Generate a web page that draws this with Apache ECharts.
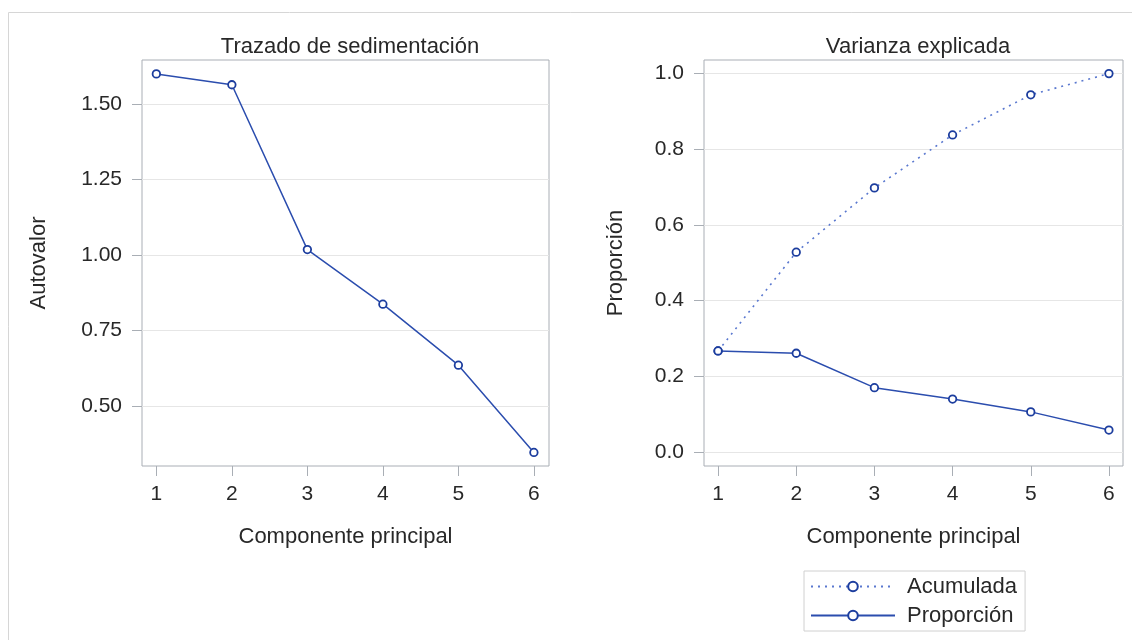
<!DOCTYPE html>
<html>
<head>
<meta charset="utf-8">
<script src="https://cdn.jsdelivr.net/npm/echarts@6/dist/echarts.min.js"></script>
<style>
  html, body { margin: 0; padding: 0; background: #fff; }
  #chart { width: 1132px; height: 640px; }
</style>
</head>
<body>
<div id="chart"></div>
<script>
const componentes = [1, 2, 3, 4, 5, 6];
const autovalores = [1.600, 1.564, 1.018, 0.837, 0.635, 0.346];
const proporcion = [0.267, 0.261, 0.170, 0.140, 0.106, 0.058];
const acumulada = [0.267, 0.528, 0.698, 0.838, 0.944, 1.000];
const ticksAutovalor = [0.50, 0.75, 1.00, 1.25, 1.50];
const ticksProporcion = [0.0, 0.2, 0.4, 0.6, 0.8, 1.0];

const FONT = 'Liberation Sans';
const TEXT = '#282828';
const FRAME = '#A9AEB5';
const GRIDC = '#E6E6E6';
const DARK = '#2B4DAE';
const MARK = '#1C3D9E';
const LIGHT = '#5A78CF';

const pairs = (ys) => componentes.map((c, i) => [c, ys[i]]);

const xAxisBase = (min, max) => ({
  type: 'value', min, max,
  name: 'Componente principal', nameLocation: 'middle', nameGap: 60,
  nameTextStyle: { color: TEXT, fontFamily: FONT, fontSize: 22 },
  axisLine: { show: false, onZero: false },
  axisTick: { show: true, length: 10, lineStyle: { color: FRAME }, customValues: componentes },
  axisLabel: { color: TEXT, fontFamily: FONT, fontSize: 21, margin: 18, customValues: componentes },
  splitLine: { show: false },
});

const yAxisBase = (min, max, name, ticks, fmt, gap) => ({
  type: 'value', min, max,
  name, nameLocation: 'middle', nameGap: gap,
  nameTextStyle: { color: TEXT, fontFamily: FONT, fontSize: 22 },
  axisLine: { show: false, onZero: false },
  axisTick: { show: true, length: 10, lineStyle: { color: FRAME }, customValues: ticks },
  axisLabel: { color: TEXT, fontFamily: FONT, fontSize: 21, margin: 20, customValues: ticks,
    formatter: (v) => v.toFixed(fmt) },
  splitLine: { show: true, lineStyle: { color: GRIDC, width: 1 } },
});

const marker = { color: '#fff', borderColor: MARK, borderWidth: 1.8 };

const chart = echarts.init(document.getElementById('chart'));
chart.setOption({
  animation: false,
  backgroundColor: '#fff',
  graphic: [{
    type: 'rect', shape: { x: 8.5, y: 12.5, width: 1140, height: 640 },
    style: { fill: 'none', stroke: '#D6D6D6', lineWidth: 1 }, silent: true,
  }],
  title: [
    { text: 'Trazado de sedimentación', left: 345, top: 31, textAlign: 'center',
      textStyle: { color: TEXT, fontFamily: FONT, fontSize: 22, fontWeight: 'normal' } },
    { text: 'Varianza explicada', left: 913, top: 31, textAlign: 'center',
      textStyle: { color: TEXT, fontFamily: FONT, fontSize: 22, fontWeight: 'normal' } },
  ],
  grid: [
    { left: 142, top: 60, width: 407, height: 406, show: true, borderColor: FRAME, borderWidth: 1 },
    { left: 704, top: 60, width: 419, height: 406, show: true, borderColor: FRAME, borderWidth: 1 },
  ],
  xAxis: [
    Object.assign(xAxisBase(0.81, 6.20), { gridIndex: 0 }),
    Object.assign(xAxisBase(0.82, 6.18), { gridIndex: 1 }),
  ],
  yAxis: [
    Object.assign(yAxisBase(0.301, 1.646, 'Autovalor', ticksAutovalor, 2, 92), { gridIndex: 0 }),
    Object.assign(yAxisBase(-0.037, 1.036, 'Proporción', ticksProporcion, 1, 77), { gridIndex: 1 }),
  ],
  legend: {
    left: 804, top: 571, orient: 'vertical',
    data: ['Acumulada', 'Proporción'],
    itemWidth: 84, itemHeight: 12, itemGap: 4,
    padding: [3, 8, 3, 6],
    borderColor: '#D0D0D0', borderWidth: 1,
    textStyle: { color: TEXT, fontFamily: FONT, fontSize: 22, lineHeight: 25, padding: [0, 0, 0, 7] },
    selectedMode: false,
  },
  series: [
    { name: 'Autovalor', type: 'line', xAxisIndex: 0, yAxisIndex: 0, data: pairs(autovalores),
      symbol: 'circle', symbolSize: 7.5, lineStyle: { color: DARK, width: 1.5 },
      itemStyle: marker },
    { name: 'Acumulada', type: 'line', xAxisIndex: 1, yAxisIndex: 1, data: pairs(acumulada),
      symbol: 'circle', symbolSize: 7.5, lineStyle: { color: LIGHT, width: 1.6, type: [2, 5] },
      itemStyle: marker },
    { name: 'Proporción', type: 'line', xAxisIndex: 1, yAxisIndex: 1, data: pairs(proporcion),
      symbol: 'circle', symbolSize: 7.5, lineStyle: { color: DARK, width: 1.5 },
      itemStyle: marker },
  ],
});
</script>
</body>
</html>
